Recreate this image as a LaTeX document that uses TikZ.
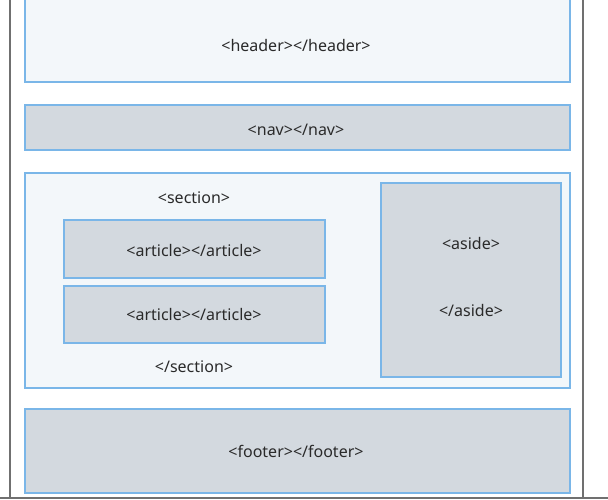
\documentclass[tikz,border=0pt]{standalone}
\usepackage{fontspec}
\setmainfont{Noto Sans}
\definecolor{bluedge}{HTML}{7AB6E8}
\definecolor{lightfill}{HTML}{F3F7FA}
\definecolor{grayfill}{HTML}{D3D9DF}
\definecolor{txt}{HTML}{2A2A2A}
\definecolor{frame}{HTML}{707070}
\tikzset{
  lightbox/.style={draw=bluedge, fill=lightfill, line width=1.4pt},
  graybox/.style={draw=bluedge, fill=grayfill, line width=1.4pt},
  lbl/.style={text=txt, font=\fontsize{16}{18}\selectfont, inner sep=0pt},
}
\begin{document}
\begin{tikzpicture}[x=1pt,y=-1pt]
\useasboundingbox (0,0) rectangle (608,499);
\fill[white] (0,0) rectangle (608,499);
% outer frame
\draw[frame, line width=1.2pt] (10,-2) -- (10,498) -- (583,498) -- (583,-2);
\draw[frame, line width=1.2pt] (0,498) -- (608,498);
% header
\draw[lightbox] (25,-2) rectangle (570,82);
\node[lbl] (header) at (296,45) {<header></header>};
% nav
\draw[graybox] (25,105) rectangle (570,150);
\node[lbl] (nav) at (296,130) {<nav></nav>};
% section container
\draw[lightbox] (25,173) rectangle (570,388);
\node[lbl] (secopen) at (194,198) {<section>};
\draw[graybox] (64,220) rectangle (325,278);
\node[lbl] (art1) at (194,250) {<article></article>};
\draw[graybox] (64,286) rectangle (325,343);
\node[lbl] (art2) at (194,314) {<article></article>};
\node[lbl] (secclose) at (194,367) {</section>};
% aside
\draw[graybox] (381,183) rectangle (561,377);
\node[lbl] (asideopen) at (471,243) {<aside>};
\node[lbl] (asideclose) at (471,310) {</aside>};
% footer
\draw[graybox] (25,409) rectangle (570,493);
\node[lbl] (footer) at (296,451) {<footer></footer>};
\end{tikzpicture}
\end{document}
